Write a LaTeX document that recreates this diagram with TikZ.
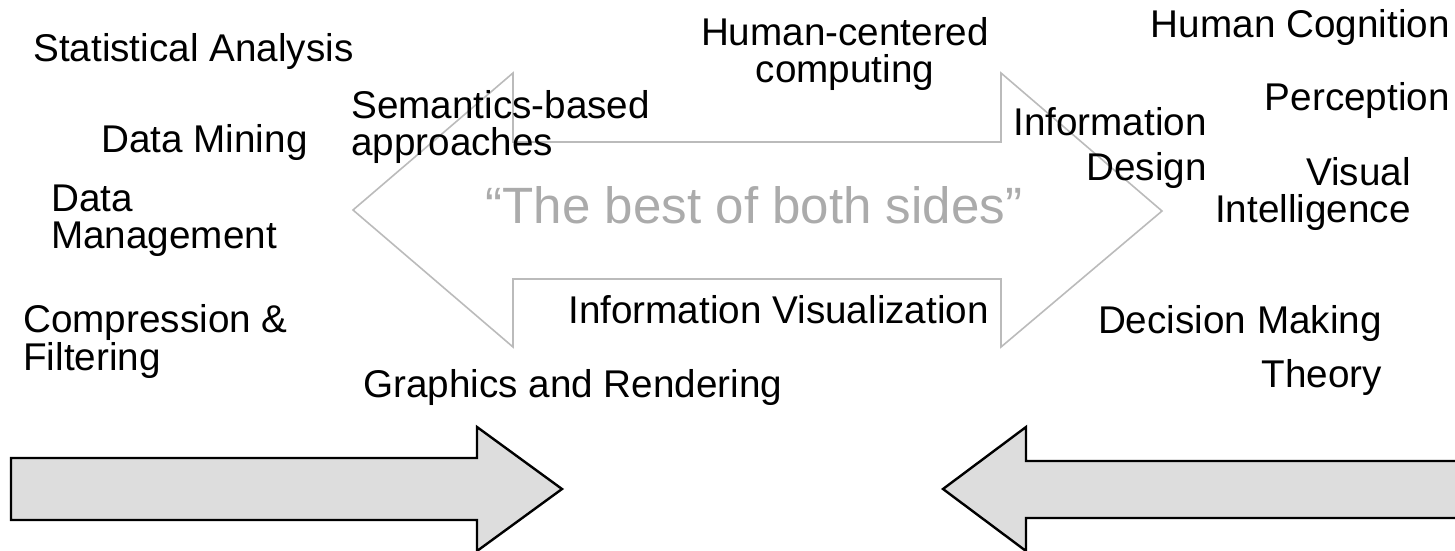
\documentclass[tikz,border=0pt]{standalone}
\usepackage{fontspec}
\setmainfont{Liberation Sans}
\usepackage{tikz}
\definecolor{mgrey}{HTML}{BBBBBB}
\definecolor{mtext}{HTML}{ABABAB}
\definecolor{mfill}{HTML}{DDDDDD}

\begin{document}
\begin{tikzpicture}[x=0.75pt, y=-0.75pt,
    lbl/.style={inner sep=0pt, font=\fontsize{29}{27.5}\selectfont},
    bigarrow/.style={draw=black, fill=mfill, line width=1.8pt, line join=miter}]

            \useasboundingbox (0, 0) rectangle (1455, 550);

            % the two-headed arrow in the middle
            \draw[mgrey, line width=1.2pt] (353, 210) coordinate (tl) -- (513, 73) -- (513, 142)
                -- (1001, 142) -- (1001, 73) -- (1162, 211) coordinate (tr) -- (1001, 347)
                -- (1001, 279) -- (513, 279) -- (513, 347) -- cycle;
            \node[inner sep=0pt, anchor=base, text=mtext, font=\fontsize{38.3}{40}\selectfont]
                (best) at (754, 223) {``The best of both sides''};

            % the two big arrows
            \draw[bigarrow] (11, 458) coordinate (la) -- (477, 458) -- (477, 427) -- (562, 489)
                -- (477, 551) -- (477, 520) -- (11, 520) -- cycle;
            \draw[bigarrow] (943, 489) coordinate (ra) -- (1026, 427) -- (1026, 461) -- (1465, 461)
                -- (1465, 518) -- (1026, 518) -- (1026, 551) -- cycle;

            % left side (multi-line nodes sit on their last line)
            \node[lbl, anchor=base west] (stat) at (33, 61) {Statistical Analysis};
            \node[lbl, anchor=base west] (mining) at (101, 152) {Data Mining};
            \node[lbl, anchor=base west, align=left] (mgmt) at (51, 248) {Data\\Management};
            \node[lbl, anchor=base west, align=left] (compr) at (23, 370) {Compression \&\\[1pt]Filtering};
            \node[lbl, anchor=base west, align=left] (sem) at (351, 155) {Semantics-based\\approaches};
            \node[lbl, anchor=base west] (graph) at (363, 397) {Graphics and Rendering};
            \node[lbl, anchor=base west] (infovis) at (568, 323) {Information Visualization};

            % middle and right side
            \node[lbl, anchor=base, align=center] (hcc) at (845, 82) {Human-centered\\computing};
            \node[lbl, anchor=base east] (cogn) at (1450, 37) {Human Cognition};
            \node[lbl, anchor=base east] (perc) at (1450, 110) {Perception};
            \node[lbl, anchor=base east, align=right] (infodes) at (1207, 180) {Information\\[6pt]Design};
            \node[lbl, anchor=base east, align=right] (visint) at (1411, 222) {Visual\\Intelligence};
            \node[lbl, anchor=base east, align=right] (dec) at (1382, 387) {Decision Making\\[13pt]Theory};

          \end{tikzpicture}
\end{document}
